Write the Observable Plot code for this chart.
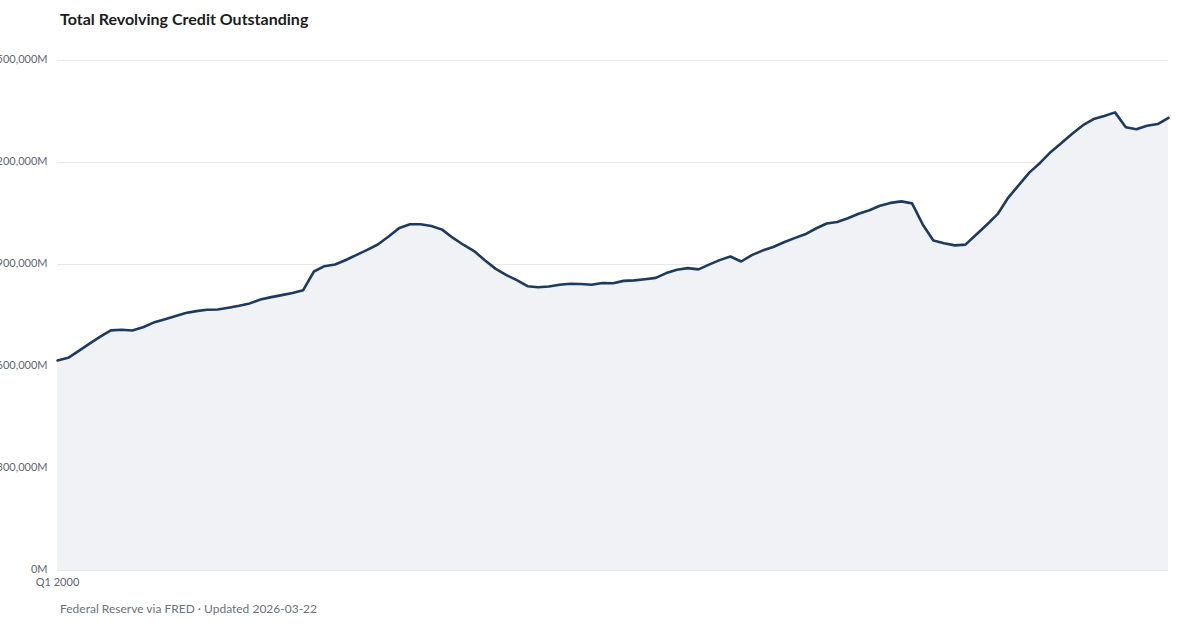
<!DOCTYPE html>
<html>
<head>
<meta charset="utf-8">
<script src="https://cdn.jsdelivr.net/npm/d3@7"></script>
<script src="https://cdn.jsdelivr.net/npm/@observablehq/plot@0.6"></script>
<style>
  html, body { margin: 0; padding: 0; background: #fff; width: 1200px; height: 630px; overflow: hidden; }
  body { position: relative; font-family: Lato, "Open Sans", sans-serif; }
  #title { position: absolute; left: 60px; top: 9px; font-size: 16px; font-weight: 700; line-height: 20px; color: #1a1d21; }
  #chart { position: absolute; left: 0; top: 40px; }
  #caption { position: absolute; left: 60px; top: 601px; font-size: 12px; line-height: 16px; color: #6b717b; }
</style>
</head>
<body>
<div id="title">Total Revolving Credit Outstanding</div>
<div id="chart"></div>
<div id="caption">Federal Reserve via FRED · Updated 2026-03-22</div>
<script>
// Quarterly series starting Q1 2000 (millions of dollars)
const startYear = 2000;
const values = [
  617600, 625600, 645900, 667400, 687600, 706200, 707900, 705900,
  715600, 729100, 738500, 747600, 757400, 762900, 766800, 767600,
  772900, 778800, 785600, 797100, 804100, 810000, 815900, 824400,
  879400, 895000, 900000, 913200, 928500, 942900, 958800, 982400,
  1007600, 1018200, 1018200, 1013200, 1002600, 978800, 958200, 939400,
  912600, 887900, 869400, 853800, 836200, 833200, 835300, 840300,
  843200, 842600, 840300, 845600, 844700, 851800, 853200, 856800,
  860600, 874700, 884700, 889400, 885600, 899700, 912900, 923500,
  908800, 927600, 940900, 951500, 965300, 977600, 988800, 1005900,
  1020600, 1025000, 1035900, 1049100, 1059700, 1072900, 1081200, 1085600,
  1079700, 1017900, 970600, 962400, 956200, 958500, 987600, 1016800,
  1048000, 1096200, 1133500, 1170900, 1199400, 1231200, 1257600, 1284400,
  1309700, 1327700, 1336800, 1347400, 1303500, 1297900, 1307900, 1313000,
  1331500
];
const yTicks = [0, 300000, 600000, 900000, 1200000, 1500000];

const data = values.map((v, i) => ({
  date: new Date(Date.UTC(startYear, i * 3, 1)),
  value: v
}));
const xTicks = [data[0].date];

const quarterLabel = d => `Q${Math.floor(d.getUTCMonth() / 3) + 1} ${d.getUTCFullYear()}`;
const millions = d => d3.format(",")(d) + "M";

const chart = Plot.plot({
  width: 1200,
  height: 560,
  marginTop: 20,
  marginBottom: 30,
  marginLeft: 57,
  marginRight: 32,
  style: { fontFamily: "Lato, 'Open Sans', sans-serif", fontSize: "11px", color: "#5f6672", background: "transparent" },
  x: {
    type: "utc",
    domain: [data[0].date, data[data.length - 1].date],
    label: null
  },
  y: {
    domain: [0, 1500000],
    label: null
  },
  marks: [
    Plot.gridY(yTicks, { stroke: "#e6e8eb", strokeOpacity: 1, strokeWidth: 1 }),
    Plot.areaY(data, { x: "date", y: "value", fill: "#f1f2f5" }),
    Plot.lineY(data, { x: "date", y: "value", stroke: "#1d3a5f", strokeWidth: 2.6, strokeLinejoin: "round", strokeLinecap: "round" }),
    Plot.axisX({ ticks: xTicks, tickFormat: quarterLabel, tickSize: 0, tickPadding: 8, fill: "#5f6672", fontSize: 11, label: null }),
    Plot.axisY({ ticks: yTicks, tickFormat: millions, tickSize: 0, tickPadding: 10, dy: -1, fill: "#5f6672", fontSize: 11, label: null })
  ]
});
document.getElementById("chart").appendChild(chart);
</script>
</body>
</html>
